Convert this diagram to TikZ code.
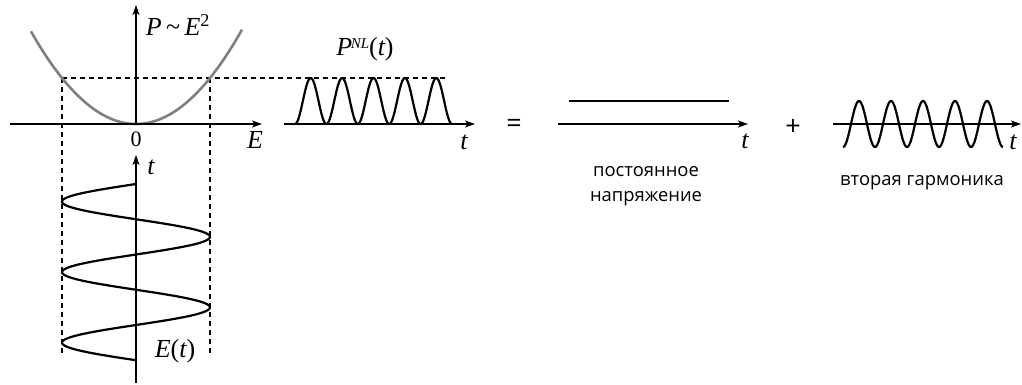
\documentclass[tikz,border=0pt]{standalone}
\usepackage{fontspec}
\setmainfont{Liberation Serif}
\newfontfamily\labelsans{Open Sans}
\usetikzlibrary{arrows.meta}
\begin{document}
\begin{tikzpicture}[x=1pt,y=-1pt,
  axis/.style={line width=1.4pt,-{Stealth[length=10pt,width=7pt,inset=2.5pt]}},
  curve/.style={line width=2.2pt,black},
  parab/.style={line width=2.6pt,color=black!50},
  guide/.style={line width=1.2pt,dash pattern=on 5pt off 4pt},
  mathlbl/.style={font=\fontsize{26}{28}\selectfont\itshape,inner sep=0pt},
  numlbl/.style={font=\fontsize{22}{24}\selectfont,inner sep=0pt},
  sanslbl/.style={font=\labelsans\fontsize{18.4}{25}\selectfont,inner sep=0pt,align=center},
  symlbl/.style={font=\labelsans\fontsize{27}{30}\selectfont,inner sep=0pt}]
\useasboundingbox (0,0) rectangle (1022,385);
% coordinates
\coordinate (Eleft) at (10,124);
\coordinate (Eright) at (262,124);
\coordinate (Pbot) at (136,124);
\coordinate (Ptop) at (136,5);
\coordinate (tbot) at (136,383);
\coordinate (ttop) at (136,155);
\coordinate (lvlL) at (62,78);
\coordinate (lvlR) at (445,78);
\coordinate (dL) at (62,355);
\coordinate (dRtop) at (210,78);
\coordinate (dR) at (210,355);
\coordinate (nlA) at (284,124);
\coordinate (nlB) at (475,124);
\coordinate (dcA) at (558,124);
\coordinate (dcB) at (748,124);
\coordinate (dcL) at (569,101);
\coordinate (dcR) at (729,101);
\coordinate (shA) at (833,124);
\coordinate (shB) at (1021,124);
% guides
\draw[guide] (lvlL) -- (lvlR);
\draw[guide] (lvlL) -- (dL);
\draw[guide] (dRtop) -- (dR);
% parabola
\draw[parab] plot[domain=31:242,samples=120,variable=\x] (\x,{124-46*((\x-136)/74)^2});
% axes
\draw[axis] (Eleft) -- (Eright);
\draw[axis] (Pbot) -- (Ptop);
\draw[axis] (tbot) -- (ttop);
\draw[axis] (nlA) -- (nlB);
\draw[axis] (dcA) -- (dcB);
\draw[axis] (shA) -- (shB);
% E(t)
\draw[curve] plot[domain=184:360.3,samples=200,variable=\t] ({136-74*sin(5.1064*(\t-184))},\t);
% P^NL(t)
\draw[curve] plot[domain=295:452,samples=200,variable=\x] (\x,{124-23*(1-cos(11.465*(\x-295)))});
% DC line
\draw[line width=2.6pt] (dcL) -- (dcR);
% second harmonic
\draw[curve] plot[domain=843:1003,samples=200,variable=\x] (\x,{124+23*cos(11.25*(\x-843))});
% labels
\node[mathlbl] (lP) at (178,25) {P\,{\upshape\textasciitilde}\,E{\upshape\textsuperscript{2}}};
\node[numlbl] (l0) at (136,139) {0};
\node[mathlbl] (lE) at (255,140) {E};
\node[mathlbl] (lt1) at (151,167) {t};
\node[mathlbl] (lEt) at (175,351) {E{\upshape(}t{\upshape)}};
\node[mathlbl] (lPNL) at (365,49) {P\kern-1.5pt\raisebox{7pt}{\fontsize{15}{15}\selectfont NL}{\upshape(}t{\upshape)}};
\node[mathlbl] (lt2) at (464,142) {t};
\node[symlbl] (leq) at (514,126) {=};
\node[mathlbl] (lt3) at (745,141) {t};
\node[sanslbl] (ldc) at (646,186) {постоянное\\напряжение};
\node[symlbl] (lplus) at (793,127) {+};
\node[mathlbl] (lt4) at (1013,142) {t};
\node[sanslbl] (lsh) at (922,183) {вторая гармоника};
\end{tikzpicture}
\end{document}
